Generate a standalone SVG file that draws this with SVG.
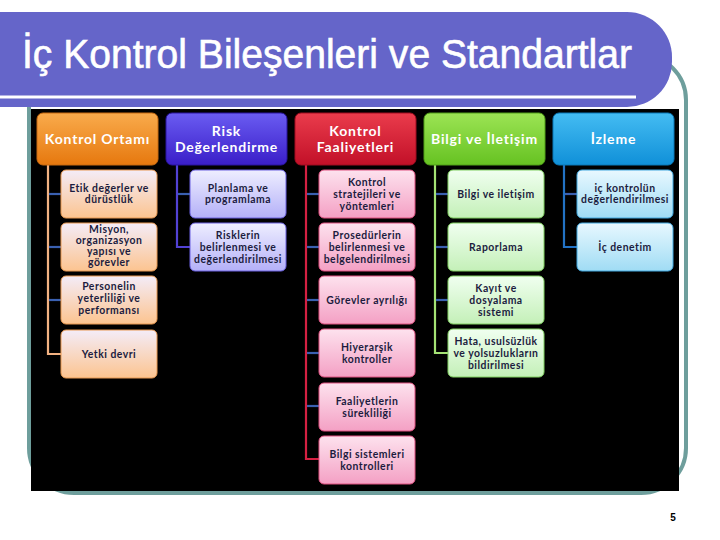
<svg xmlns="http://www.w3.org/2000/svg" width="720" height="540" viewBox="0 0 720 540">
<defs>
<linearGradient id="h1" x1="0" y1="0" x2="0" y2="1"><stop offset="0" stop-color="#f9ab4c"/><stop offset="1" stop-color="#e6780e"/></linearGradient>
<linearGradient id="h2" x1="0" y1="0" x2="0" y2="1"><stop offset="0" stop-color="#6a5cf2"/><stop offset="1" stop-color="#3a1ec8"/></linearGradient>
<linearGradient id="h3" x1="0" y1="0" x2="0" y2="1"><stop offset="0" stop-color="#ea3c4c"/><stop offset="1" stop-color="#c21028"/></linearGradient>
<linearGradient id="h4" x1="0" y1="0" x2="0" y2="1"><stop offset="0" stop-color="#9ce454"/><stop offset="1" stop-color="#66c222"/></linearGradient>
<linearGradient id="h5" x1="0" y1="0" x2="0" y2="1"><stop offset="0" stop-color="#44bcf2"/><stop offset="1" stop-color="#1090d8"/></linearGradient>
<linearGradient id="c1" x1="0" y1="0" x2="0" y2="1"><stop offset="0" stop-color="#f4ecf8"/><stop offset="1" stop-color="#fcc490"/></linearGradient>
<linearGradient id="c2" x1="0" y1="0" x2="0" y2="1"><stop offset="0" stop-color="#eeeeff"/><stop offset="1" stop-color="#b4b0f8"/></linearGradient>
<linearGradient id="c3" x1="0" y1="0" x2="0" y2="1"><stop offset="0" stop-color="#fde2ee"/><stop offset="1" stop-color="#f4a0c4"/></linearGradient>
<linearGradient id="c4" x1="0" y1="0" x2="0" y2="1"><stop offset="0" stop-color="#f0fff0"/><stop offset="1" stop-color="#c4f0b8"/></linearGradient>
<linearGradient id="c5" x1="0" y1="0" x2="0" y2="1"><stop offset="0" stop-color="#e8f8ff"/><stop offset="1" stop-color="#a0dcf4"/></linearGradient>
</defs>
<style>
.ht{font-family:Lato,"Open Sans","Liberation Sans",sans-serif;font-weight:bold;font-size:14px;fill:#ffffff;text-anchor:middle;letter-spacing:0.8px}
.ct{font-family:Lato,"Open Sans","Liberation Sans",sans-serif;font-weight:bold;font-size:10.4px;fill:#1c1c3e;text-anchor:middle;letter-spacing:0.5px}
.v{fill:none;stroke-width:2.2}
.tk{stroke:#3a60b0;stroke-width:2.2}
</style>
<rect x="0" y="0" width="720" height="540" fill="#ffffff"/>
<rect x="29" y="55" width="657" height="438" rx="45" fill="none" stroke="#6e9e9c" stroke-width="4"/>
<path d="M0,12 H627 A45,45 0 0 1 672,57 V62 A45,45 0 0 1 627,107 H0 Z" fill="#6565c9"/>
<line x1="0" y1="97" x2="636" y2="97" stroke="#ffffff" stroke-width="3"/>
<text x="22" y="68" font-family="'Liberation Sans',Arial,sans-serif" font-size="40" fill="#ffffff" stroke="#ffffff" stroke-width="0.6" textLength="610" lengthAdjust="spacingAndGlyphs">İç Kontrol Bileşenleri ve Standartlar</text>
<rect x="31" y="109" width="648" height="382" fill="#000000"/>

<g id="connectors">
<path class="v" stroke="#f2b282" d="M48,165 V354 H61"/>
<path class="v" stroke="#5242d4" d="M177,165 V247 H190"/>
<path class="v" stroke="#d42042" d="M306,165 V459 H319"/>
<path class="v" stroke="#a4e274" d="M435,165 V353 H448"/>
<path class="v" stroke="#2272c4" d="M564,165 V247 H577"/>
<line class="tk" x1="49" y1="194" x2="61" y2="194"/>
<line class="tk" x1="49" y1="247" x2="61" y2="247"/>
<line class="tk" x1="49" y1="300" x2="61" y2="300"/>
<line class="tk" x1="178" y1="194" x2="190" y2="194"/>
<line class="tk" x1="307" y1="194" x2="319" y2="194"/>
<line class="tk" x1="307" y1="247" x2="319" y2="247"/>
<line class="tk" x1="307" y1="300" x2="319" y2="300"/>
<line class="tk" x1="307" y1="353" x2="319" y2="353"/>
<line class="tk" x1="307" y1="406" x2="319" y2="406"/>
<line class="tk" x1="436" y1="194" x2="448" y2="194"/>
<line class="tk" x1="436" y1="247" x2="448" y2="247"/>
<line class="tk" x1="436" y1="300" x2="448" y2="300"/>
<line class="tk" x1="565" y1="194" x2="577" y2="194"/>
</g>

<g id="h-kontrol-ortami"><rect x="37" y="113" width="121" height="52" rx="6" fill="url(#h1)" stroke="#c86a10"/><text class="ht" x="97.5" y="144">Kontrol Ortamı</text></g>
<g id="h-risk"><rect x="166" y="113" width="121" height="52" rx="6" fill="url(#h2)" stroke="#2a14a0"/><text class="ht" x="226.5" y="136">Risk</text><text class="ht" x="226.5" y="152">Değerlendirme</text></g>
<g id="h-faaliyet"><rect x="295" y="113" width="121" height="52" rx="6" fill="url(#h3)" stroke="#a00c20"/><text class="ht" x="355.5" y="136">Kontrol</text><text class="ht" x="355.5" y="152">Faaliyetleri</text></g>
<g id="h-bilgi"><rect x="424" y="113" width="121" height="52" rx="6" fill="url(#h4)" stroke="#50a018"/><text class="ht" x="484.5" y="144">Bilgi ve İletişim</text></g>
<g id="h-izleme"><rect x="553" y="113" width="121" height="52" rx="6" fill="url(#h5)" stroke="#0a78b8"/><text class="ht" x="613.5" y="144">İzleme</text></g>

<g id="n1-1"><rect x="61" y="170" width="96" height="48" rx="5" fill="url(#c1)" stroke="#e89850"/><text class="ct" x="109" y="192">Etik değerler ve</text><text class="ct" x="109" y="203">dürüstlük</text></g>
<g id="n1-2"><rect x="61" y="223" width="96" height="48" rx="5" fill="url(#c1)" stroke="#e89850"/><text class="ct" x="109" y="233">Misyon,</text><text class="ct" x="109" y="244">organizasyon</text><text class="ct" x="109" y="255">yapısı ve</text><text class="ct" x="109" y="266">görevler</text></g>
<g id="n1-3"><rect x="61" y="276" width="96" height="48" rx="5" fill="url(#c1)" stroke="#e89850"/><text class="ct" x="109" y="290">Personelin</text><text class="ct" x="109" y="302">yeterliliği ve</text><text class="ct" x="109" y="314">performansı</text></g>
<g id="n1-4"><rect x="61" y="330" width="96" height="48" rx="5" fill="url(#c1)" stroke="#e89850"/><text class="ct" x="109" y="358">Yetki devri</text></g>

<g id="n2-1"><rect x="190" y="170" width="96" height="48" rx="5" fill="url(#c2)" stroke="#6a60e0"/><text class="ct" x="238" y="192">Planlama ve</text><text class="ct" x="238" y="203">programlama</text></g>
<g id="n2-2"><rect x="190" y="223" width="96" height="48" rx="5" fill="url(#c2)" stroke="#6a60e0"/><text class="ct" x="238" y="239">Risklerin</text><text class="ct" x="238" y="251">belirlenmesi ve</text><text class="ct" x="238" y="263">değerlendirilmesi</text></g>

<g id="n3-1"><rect x="319" y="170" width="96" height="48" rx="5" fill="url(#c3)" stroke="#e05080"/><text class="ct" x="367" y="186">Kontrol</text><text class="ct" x="367" y="198">stratejileri ve</text><text class="ct" x="367" y="210">yöntemleri</text></g>
<g id="n3-2"><rect x="319" y="223" width="96" height="48" rx="5" fill="url(#c3)" stroke="#e05080"/><text class="ct" x="367" y="239">Prosedürlerin</text><text class="ct" x="367" y="251">belirlenmesi ve</text><text class="ct" x="367" y="263">belgelendirilmesi</text></g>
<g id="n3-3"><rect x="319" y="276" width="96" height="48" rx="5" fill="url(#c3)" stroke="#e05080"/><text class="ct" x="367" y="304">Görevler ayrılığı</text></g>
<g id="n3-4"><rect x="319" y="329" width="96" height="48" rx="5" fill="url(#c3)" stroke="#e05080"/><text class="ct" x="367" y="351">Hiyerarşik</text><text class="ct" x="367" y="363">kontroller</text></g>
<g id="n3-5"><rect x="319" y="383" width="96" height="48" rx="5" fill="url(#c3)" stroke="#e05080"/><text class="ct" x="367" y="405">Faaliyetlerin</text><text class="ct" x="367" y="417">sürekliliği</text></g>
<g id="n3-6"><rect x="319" y="436" width="96" height="48" rx="5" fill="url(#c3)" stroke="#e05080"/><text class="ct" x="367" y="458">Bilgi sistemleri</text><text class="ct" x="367" y="470">kontrolleri</text></g>

<g id="n4-1"><rect x="448" y="170" width="96" height="48" rx="5" fill="url(#c4)" stroke="#80d060"/><text class="ct" x="496" y="198">Bilgi ve iletişim</text></g>
<g id="n4-2"><rect x="448" y="223" width="96" height="48" rx="5" fill="url(#c4)" stroke="#80d060"/><text class="ct" x="496" y="251">Raporlama</text></g>
<g id="n4-3"><rect x="448" y="276" width="96" height="48" rx="5" fill="url(#c4)" stroke="#80d060"/><text class="ct" x="496" y="292">Kayıt ve</text><text class="ct" x="496" y="304">dosyalama</text><text class="ct" x="496" y="316">sistemi</text></g>
<g id="n4-4"><rect x="448" y="329" width="96" height="48" rx="5" fill="url(#c4)" stroke="#80d060"/><text class="ct" x="496" y="345">Hata, usulsüzlük</text><text class="ct" x="496" y="357">ve yolsuzlukların</text><text class="ct" x="496" y="369">bildirilmesi</text></g>

<g id="n5-1"><rect x="577" y="170" width="96" height="48" rx="5" fill="url(#c5)" stroke="#40a8e0"/><text class="ct" x="625" y="192">iç kontrolün</text><text class="ct" x="625" y="203">değerlendirilmesi</text></g>
<g id="n5-2"><rect x="577" y="223" width="96" height="48" rx="5" fill="url(#c5)" stroke="#40a8e0"/><text class="ct" x="625" y="251">İç denetim</text></g>

<text x="673" y="521" font-family="'Liberation Sans',Arial,sans-serif" font-weight="bold" font-size="10" fill="#000000" text-anchor="middle">5</text>
</svg>
